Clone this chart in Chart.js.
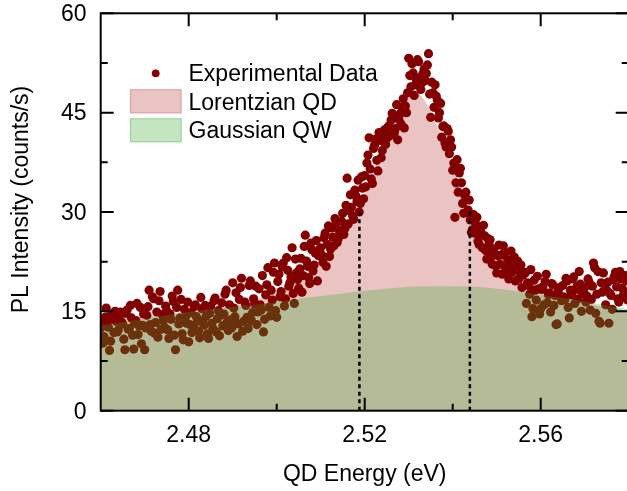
<!DOCTYPE html>
<html>
<head>
<meta charset="utf-8">
<script src="https://cdn.jsdelivr.net/npm/chart.js@4.4.1/dist/chart.umd.min.js"></script>
<style>
  html, body { margin: 0; padding: 0; background: #fff; overflow: hidden; }
  #wrap { width: 627px; height: 491px; overflow: hidden; position: relative; }
  canvas { display: block; }
</style>
</head>
<body>
<div id="wrap"><canvas id="c" width="640" height="491"></canvas></div>
<script>
// ---------- data ----------
// scan A
const energy = [
2.4600,2.4605,2.4610,2.4615,2.4620,2.4625,2.4630,2.4635,2.4640,2.4645,
2.4650,2.4655,2.4660,2.4665,2.4670,2.4675,2.4680,2.4685,2.4690,2.4695,
2.4700,2.4705,2.4710,2.4715,2.4720,2.4725,2.4730,2.4735,2.4740,2.4745,
2.4750,2.4755,2.4760,2.4765,2.4770,2.4775,2.4780,2.4785,2.4790,2.4795,
2.4800,2.4805,2.4810,2.4815,2.4820,2.4825,2.4830,2.4835,2.4840,2.4845,
2.4850,2.4855,2.4860,2.4865,2.4870,2.4875,2.4880,2.4885,2.4890,2.4895,
2.4900,2.4905,2.4910,2.4915,2.4920,2.4925,2.4930,2.4935,2.4940,2.4945,
2.4950,2.4955,2.4960,2.4965,2.4970,2.4975,2.4980,2.4985,2.4990,2.4995,
2.5000,2.5005,2.5010,2.5015,2.5020,2.5025,2.5030,2.5035,2.5040,2.5045,
2.5050,2.5055,2.5060,2.5065,2.5070,2.5075,2.5080,2.5085,2.5090,2.5095,
2.5100,2.5105,2.5110,2.5115,2.5120,2.5125,2.5130,2.5135,2.5140,2.5145,
2.5150,2.5155,2.5160,2.5165,2.5170,2.5175,2.5180,2.5185,2.5190,2.5195,
2.5200,2.5205,2.5210,2.5215,2.5220,2.5225,2.5230,2.5235,2.5240,2.5245,
2.5250,2.5255,2.5260,2.5265,2.5270,2.5275,2.5280,2.5285,2.5290,2.5295,
2.5300,2.5305,2.5310,2.5315,2.5320,2.5325,2.5330,2.5335,2.5340,2.5345,
2.5350,2.5355,2.5360,2.5365,2.5370,2.5375,2.5380,2.5385,2.5390,2.5395,
2.5400,2.5405,2.5410,2.5415,2.5420,2.5425,2.5430,2.5435,2.5440,2.5445,
2.5450,2.5455,2.5460,2.5465,2.5470,2.5475,2.5480,2.5485,2.5490,2.5495,
2.5500,2.5505,2.5510,2.5515,2.5520,2.5525,2.5530,2.5535,2.5540,2.5545,
2.5550,2.5555,2.5560,2.5565,2.5570,2.5575,2.5580,2.5585,2.5590,2.5595,
2.5600,2.5605,2.5610,2.5615,2.5620,2.5625,2.5630,2.5635,2.5640,2.5645,
2.5650,2.5655,2.5660,2.5665,2.5670,2.5675,2.5680,2.5685,2.5690,2.5695,
2.5700,2.5705,2.5710,2.5715,2.5720,2.5725,2.5730,2.5735,2.5740,2.5745,
2.5750,2.5755,2.5760,2.5765,2.5770,2.5775,2.5780,2.5785,2.5790,2.5795,2.5800
];
const counts = [
12.5,10.2,14.1,13.0,9.1,14.6,11.8,13.5,12.2,14.9,
13.1,9.2,15.2,12.4,14.0,9.3,13.6,11.5,15.6,12.9,
9.2,14.4,18.2,12.0,16.9,13.3,11.1,18.0,14.5,12.6,
15.1,10.9,13.8,16.5,9.2,18.2,14.0,11.6,15.3,13.2,
10.4,14.8,12.7,16.0,13.5,11.0,15.4,12.9,14.3,10.9,
15.8,12.4,17.0,13.9,11.3,16.3,14.6,18.2,12.1,13.7,
19.3,14.2,11.2,16.8,20.0,13.5,15.9,12.4,19.6,14.8,
16.1,13.0,18.4,15.2,11.9,17.5,21.6,14.3,16.7,22.3,
14.1,20.6,18.0,22.3,16.9,21.2,19.3,24.6,16.2,20.8,
18.5,23.0,20.4,26.5,21.8,19.2,24.3,22.0,25.7,23.4,
24.6,22.4,26.8,25.1,23.3,27.6,24.9,28.3,26.0,27.2,
29.8,27.5,35.1,30.2,30.7,28.9,32.4,34.8,31.3,33.6,
35.5,37.4,41.2,35.0,39.6,41.0,36.2,40.8,39.3,42.4,
41.1,43.0,43.9,44.3,42.6,40.9,44.8,45.8,42.7,45.0,
53.2,48.9,51.0,49.2,53.0,50.3,49.5,51.6,50.9,53.9,
44.3,48.0,49.2,46.9,45.0,41.3,43.0,39.8,42.2,40.9,
36.3,29.2,37.9,35.9,34.4,29.8,33.0,30.3,28.8,27.3,
26.8,29.2,25.1,26.8,28.0,24.2,26.0,25.8,22.1,23.8,
20.8,25.0,23.5,24.9,21.6,22.8,22.3,20.9,23.2,21.4,
19.9,22.0,20.5,20.8,19.3,17.6,14.2,19.7,16.7,18.4,
15.4,18.7,19.5,16.3,17.8,19.2,15.9,13.0,18.1,17.2,
18.9,16.8,19.6,14.0,17.5,20.2,18.3,16.9,19.1,17.7,
18.6,17.3,19.4,16.8,22.3,14.7,21.0,13.2,17.9,19.0,
18.2,13.2,17.4,19.8,20.9,16.9,21.0,18.5,17.1,19.6,18.0
];
// scan B (interleaved energies)
const energyB = [
2.46025,2.46075,2.46125,2.46175,2.46225,2.46275,2.46325,2.46375,2.46425,2.46475,
2.46525,2.46575,2.46625,2.46675,2.46725,2.46775,2.46825,2.46875,2.46925,2.46975,
2.47025,2.47075,2.47125,2.47175,2.47225,2.47275,2.47325,2.47375,2.47425,2.47475,
2.47525,2.47575,2.47625,2.47675,2.47725,2.47775,2.47825,2.47875,2.47925,2.47975,
2.48025,2.48075,2.48125,2.48175,2.48225,2.48275,2.48325,2.48375,2.48425,2.48475,
2.48525,2.48575,2.48625,2.48675,2.48725,2.48775,2.48825,2.48875,2.48925,2.48975,
2.49025,2.49075,2.49125,2.49175,2.49225,2.49275,2.49325,2.49375,2.49425,2.49475,
2.49525,2.49575,2.49625,2.49675,2.49725,2.49775,2.49825,2.49875,2.49925,2.49975,
2.50025,2.50075,2.50125,2.50175,2.50225,2.50275,2.50325,2.50375,2.50425,2.50475,
2.50525,2.50575,2.50625,2.50675,2.50725,2.50775,2.50825,2.50875,2.50925,2.50975,
2.51025,2.51075,2.51125,2.51175,2.51225,2.51275,2.51325,2.51375,2.51425,2.51475,
2.51525,2.51575,2.51625,2.51675,2.51725,2.51775,2.51825,2.51875,2.51925,2.51975,
2.52025,2.52075,2.52125,2.52175,2.52225,2.52275,2.52325,2.52375,2.52425,2.52475,
2.52525,2.52575,2.52625,2.52675,2.52725,2.52775,2.52825,2.52875,2.52925,2.52975,
2.53025,2.53075,2.53125,2.53175,2.53225,2.53275,2.53325,2.53375,2.53425,2.53475,
2.53525,2.53575,2.53625,2.53675,2.53725,2.53775,2.53825,2.53875,2.53925,2.53975,
2.54025,2.54075,2.54125,2.54175,2.54225,2.54275,2.54325,2.54375,2.54425,2.54475,
2.54525,2.54575,2.54625,2.54675,2.54725,2.54775,2.54825,2.54875,2.54925,2.54975,
2.55025,2.55075,2.55125,2.55175,2.55225,2.55275,2.55325,2.55375,2.55425,2.55475,
2.55525,2.55575,2.55625,2.55675,2.55725,2.55775,2.55825,2.55875,2.55925,2.55975,
2.56025,2.56075,2.56125,2.56175,2.56225,2.56275,2.56325,2.56375,2.56425,2.56475,
2.56525,2.56575,2.56625,2.56675,2.56725,2.56775,2.56825,2.56875,2.56925,2.56975,
2.57025,2.57075,2.57125,2.57175,2.57225,2.57275,2.57325,2.57375,2.57425,2.57475,
2.57525,2.57575,2.57625,2.57675,2.57725,2.57775,2.57825,2.57875,2.57925,2.57975
];
const countsB = [
13.8,11.2,15.5,12.6,10.5,13.9,15.0,11.9,14.3,13.4,
10.8,14.7,12.3,15.9,11.4,13.2,16.2,12.8,10.1,14.6,
12.5,15.7,13.0,17.2,11.7,14.9,16.6,12.3,13.6,15.8,
12.2,14.6,17.3,11.4,15.6,13.1,16.8,10.7,14.1,16.4,
13.0,11.8,15.7,14.2,12.0,17.1,13.6,15.9,11.6,14.7,
13.2,16.6,11.9,15.1,14.4,12.8,17.6,13.4,16.0,12.5,
15.5,17.8,13.1,18.6,12.0,16.4,14.1,18.9,13.6,16.9,
18.8,14.9,16.0,20.4,13.8,19.0,15.6,18.2,20.9,15.1,
19.5,17.2,21.7,15.8,23.1,18.8,20.2,17.7,22.9,19.8,
21.4,17.9,24.8,22.6,20.1,25.3,21.1,23.8,19.6,24.4,
23.5,26.1,21.8,27.9,24.4,26.2,29.0,25.4,27.1,28.6,
26.6,31.0,28.2,32.6,29.4,33.3,31.6,30.0,35.3,32.0,
33.8,38.6,36.5,34.3,40.1,37.8,42.0,38.2,41.6,40.2,
42.8,41.5,44.9,42.0,46.2,44.0,43.3,47.1,46.0,48.0,
50.6,52.4,47.6,50.0,52.7,48.5,50.9,49.8,52.2,47.8,
49.6,45.8,47.5,44.2,46.4,42.9,40.4,42.6,38.8,39.8,
37.4,34.4,33.0,36.6,31.3,32.5,29.9,31.8,26.9,29.6,
28.2,25.6,27.4,24.6,26.4,22.9,25.1,23.3,24.4,21.9,
23.4,22.1,20.6,23.9,21.2,19.9,24.1,21.9,19.6,22.6,
21.0,18.6,20.9,16.2,18.9,21.3,15.4,18.2,20.3,14.6,
18.3,16.0,20.6,17.5,14.9,19.0,17.4,13.1,18.6,16.6,
17.2,20.0,15.6,18.2,19.9,16.2,18.8,21.0,15.0,18.0,
16.4,19.9,15.2,18.8,21.6,17.6,13.5,19.3,20.8,16.0,
19.4,17.7,15.3,20.3,18.7,16.4,19.9,17.4,20.4,16.7
];
// Lorentzian QD fit curve
const lorentzEnergy = [2.460,2.465,2.470,2.475,2.480,2.485,2.490,2.495,2.500,2.505,2.510,
  2.5125,2.515,2.5175,2.520,2.5225,2.525,2.5275,2.530,2.5312,2.5325,2.535,2.5375,2.540,
  2.5425,2.545,2.5475,2.550,2.5525,2.555,2.560,2.565,2.570,2.575,2.580];
const lorentzFit = [13.9,14.07,14.28,14.54,14.88,15.32,15.91,16.72,17.89,19.6,22.23,
  24.06,26.37,29.25,32.79,36.94,41.39,45.38,47.79,48.1,47.74,45.24,41.21,36.77,
  32.64,29.13,26.26,23.98,22.17,20.72,18.62,17.23,16.27,15.58,15.07];
// Gaussian QW fit curve
const gaussEnergy = [2.460,2.465,2.470,2.475,2.480,2.485,2.490,2.495,2.500,2.505,2.510,2.515,
  2.520,2.525,2.530,2.535,2.540,2.545,2.550,2.555,2.560,2.565,2.570,2.575,2.580];
const gaussFit = [12.9,13.4,13.9,14.4,14.9,15.3,15.7,16.0,16.4,16.9,17.3,17.7,
  18.1,18.4,18.7,18.8,18.8,18.7,18.4,18.0,17.5,17.0,16.5,15.9,15.3];
// FWHM markers
const fwhmEnergy = [2.5188, 2.5439];
const fwhmLevel = 30.4;
// axes
const xMajor = [2.48, 2.52, 2.56];
const xMajorLabels = ['2.48', '2.52', '2.56'];
const xMinor = [2.50, 2.54];
const yMajor = [0, 15, 30, 45, 60];
const yMajorLabels = ['0', '15', '30', '45', '60'];
const yMinor = [7.5, 22.5, 37.5, 52.5];
const xTitle = 'QD Energy (eV)';
const yTitle = 'PL Intensity (counts/s)';
const seriesNames = ['Experimental Data', 'Lorentzian QD', 'Gaussian QW'];

// ---------- styles ----------
const FONT = '23px "Liberation Sans", Arial, sans-serif';
const DOT = '#820000';
const PINK = 'rgba(178,40,40,0.28)';
const PINK_EDGE = 'rgba(178,40,40,0.22)';
const GREEN = 'rgba(49,170,42,0.29)';
const GREEN_EDGE = 'rgba(49,140,42,0.25)';

const pts = (xs, ys) => xs.map((v, i) => ({ x: v, y: ys[i] }));
const measured = pts(energy, counts).concat(pts(energyB, countsB)).sort((p, q) => p.x - q.x);

const datasets = [
  { label: seriesNames[0], data: measured, showLine: false,
    pointRadius: 4.6, pointHoverRadius: 4.6, pointBorderWidth: 0,
    pointBackgroundColor: DOT, backgroundColor: DOT, borderColor: DOT, order: 2 },
  { label: seriesNames[1], data: pts(lorentzEnergy, lorentzFit), fill: 'origin',
    backgroundColor: PINK, borderColor: 'rgba(0,0,0,0)', borderWidth: 0,
    pointRadius: 0, cubicInterpolationMode: 'monotone', order: 3 },
  { label: seriesNames[2], data: pts(gaussEnergy, gaussFit), fill: 'origin',
    backgroundColor: GREEN, borderColor: 'rgba(0,0,0,0)', borderWidth: 0,
    pointRadius: 0, cubicInterpolationMode: 'monotone', order: 1 }
];
fwhmEnergy.forEach(e => datasets.push({
  label: 'FWHM', data: [{ x: e, y: 0 }, { x: e, y: fwhmLevel }], fill: false,
  borderColor: '#000', borderWidth: 2.5, borderDash: [4, 3.5], pointRadius: 0, order: 0
}));

const decor = {
  id: 'decor',
  afterDraw(chart) {
    const { ctx, chartArea: a, scales } = chart;
    const xs = scales.x, ys = scales.y;
    ctx.save();
    // frame
    ctx.strokeStyle = '#000';
    ctx.lineWidth = 2;
    ctx.strokeRect(a.left, a.top, a.right - a.left, a.bottom - a.top);
    // ticks (inward, all four sides)
    ctx.beginPath();
    const xt = (v, len) => {
      const p = xs.getPixelForValue(v);
      ctx.moveTo(p, a.bottom); ctx.lineTo(p, a.bottom - len);
      ctx.moveTo(p, a.top); ctx.lineTo(p, a.top + len);
    };
    const yt = (v, len) => {
      const p = ys.getPixelForValue(v);
      ctx.moveTo(a.left, p); ctx.lineTo(a.left + len, p);
      ctx.moveTo(a.right, p); ctx.lineTo(a.right - len, p);
    };
    xMajor.forEach(v => xt(v, 13));
    xMinor.forEach(v => xt(v, 7));
    yMajor.forEach(v => yt(v, 13));
    yMinor.forEach(v => yt(v, 7));
    ctx.stroke();
    // tick labels
    ctx.fillStyle = '#000';
    ctx.font = FONT;
    ctx.textBaseline = 'alphabetic';
    ctx.textAlign = 'center';
    xMajor.forEach((v, i) => ctx.fillText(xMajorLabels[i], xs.getPixelForValue(v), 442));
    ctx.textAlign = 'right';
    yMajor.forEach((v, i) => ctx.fillText(yMajorLabels[i], 86.5, ys.getPixelForValue(v) + 7.8));
    // axis titles
    ctx.textAlign = 'center';
    ctx.fillText(xTitle, (a.left + a.right) / 2, 481);
    ctx.save();
    ctx.translate(28, 199.5);
    ctx.rotate(-Math.PI / 2);
    ctx.fillText(yTitle, 0, 0);
    ctx.restore();
    // legend
    const ds = chart.data.datasets;
    ctx.fillStyle = ds[0].pointBackgroundColor;
    ctx.beginPath();
    ctx.arc(155.7, 73.3, 3.9, 0, Math.PI * 2);
    ctx.fill();
    ctx.lineWidth = 1.2;
    ctx.fillStyle = ds[1].backgroundColor;
    ctx.fillRect(130, 89.3, 51.7, 24);
    ctx.strokeStyle = PINK_EDGE;
    ctx.strokeRect(130.5, 89.8, 50.7, 23);
    ctx.fillStyle = ds[2].backgroundColor;
    ctx.fillRect(130, 118.3, 51.7, 24);
    ctx.strokeStyle = GREEN_EDGE;
    ctx.strokeRect(130.5, 118.8, 50.7, 23);
    ctx.fillStyle = '#000';
    ctx.textAlign = 'left';
    ctx.fillText(ds[0].label, 188.5, 80.7);
    ctx.fillText(ds[1].label, 188.5, 109.7);
    ctx.fillText(ds[2].label, 188.5, 138.4);
    ctx.restore();
  }
};

new Chart(document.getElementById('c'), {
  type: 'line',
  data: { datasets },
  options: {
    responsive: false,
    devicePixelRatio: 1,
    animation: false,
    events: [],
    layout: { padding: { left: 100.7, right: 11.3, top: 13.3, bottom: 80.3 } },
    scales: {
      x: { type: 'linear', min: 2.46, max: 2.58, display: false },
      y: { type: 'linear', min: 0, max: 60, display: false }
    },
    plugins: {
      legend: { display: false },
      tooltip: { enabled: false },
      filler: { propagate: false }
    }
  },
  plugins: [decor]
});
</script>
</body>
</html>
